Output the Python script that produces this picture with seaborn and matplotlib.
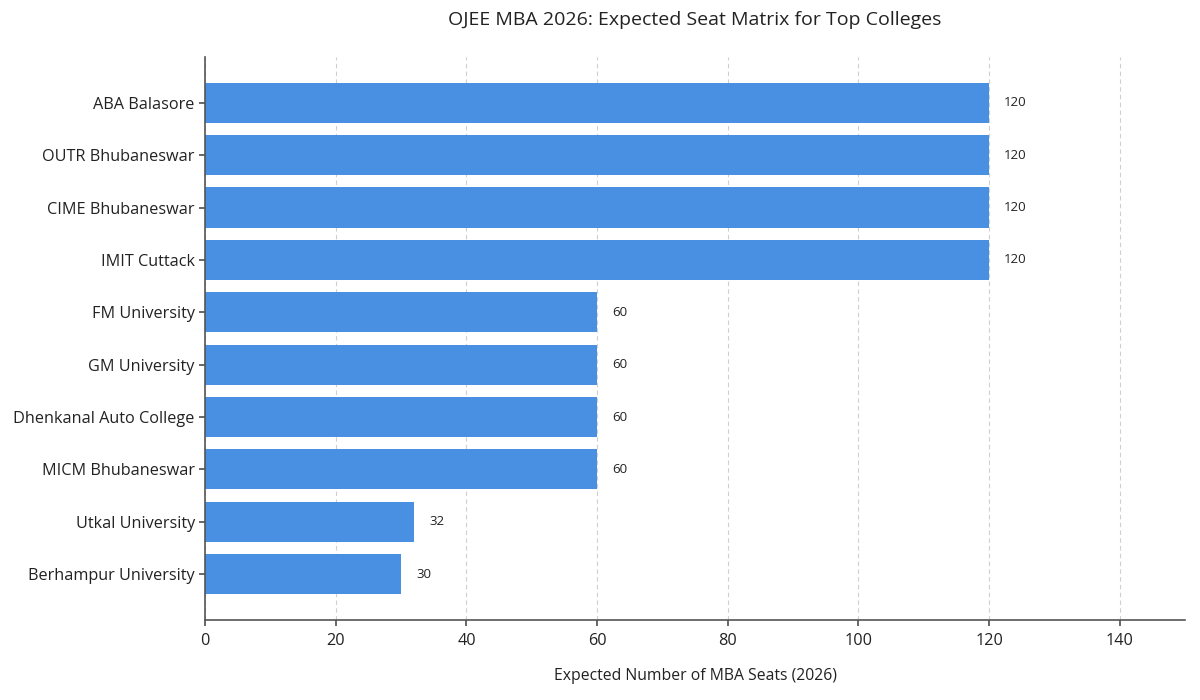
import matplotlib
matplotlib.use("Agg")
import matplotlib.pyplot as plt
import seaborn as sns
import pandas as pd

colleges = ["ABA Balasore", "OUTR Bhubaneswar", "CIME Bhubaneswar", "IMIT Cuttack",
            "FM University", "GM University", "Dhenkanal Auto College",
            "MICM Bhubaneswar", "Utkal University", "Berhampur University"]
seats = [120, 120, 120, 120, 60, 60, 60, 60, 32, 30]

df = pd.DataFrame({"College": colleges, "Seats": seats})

sns.set_theme(style="white")
plt.rcParams['font.family'] = ['Open Sans', 'DejaVu Sans']

fig = plt.figure(figsize=(12, 7), dpi=100)
ax = fig.add_axes([0.171, 0.114, 0.8165, 0.805])

sns.barplot(data=df, x="Seats", y="College", color="#4A90E2", saturation=1,
            width=0.765, ax=ax, zorder=2, edgecolor="none", linewidth=0)

for i, v in enumerate(seats):
    ax.text(v + 2.3, i, str(v), va="center", ha="left", fontsize=9.5, color="#222222")

ax.set_xlim(0, 150)
ax.set_ylim(9.88, -0.88)
ax.set_xticks(range(0, 150, 20))
ax.xaxis.grid(True, linestyle=(0, (4, 3)), color="#cfcfcf", linewidth=0.8, zorder=0)
ax.set_axisbelow(True)
sns.despine(ax=ax)
for s in ["left", "bottom"]:
    ax.spines[s].set_color("#555555")
    ax.spines[s].set_linewidth(1.2)
ax.tick_params(axis="both", which="both", length=4, color="#555555",
               labelsize=11.7, labelcolor="#222222", bottom=True, left=True)
ax.tick_params(axis="x", pad=5)
ax.set_ylabel("")
ax.set_xlabel("Expected Number of MBA Seats (2026)", fontsize=11.3, color="#222222", labelpad=14)
ax.set_title("OJEE MBA 2026: Expected Seat Matrix for Top Colleges", fontsize=14,
             color="#222222", pad=23)

fig.savefig("out.png", dpi=100)
